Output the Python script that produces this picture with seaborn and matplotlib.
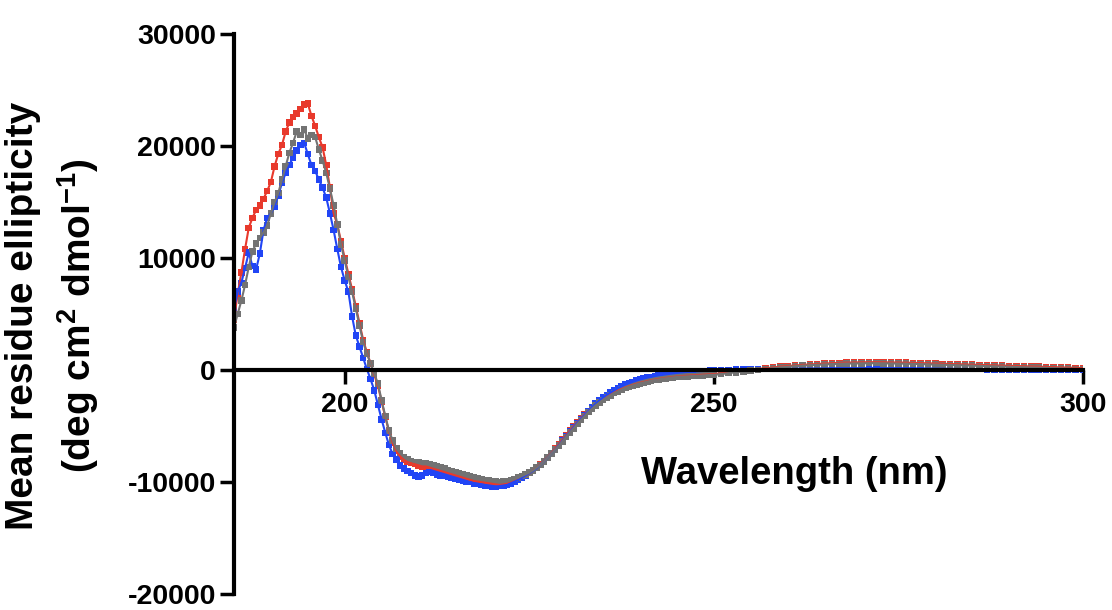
import numpy as np
import pandas as pd
import matplotlib
matplotlib.use("Agg")
import matplotlib.pyplot as plt
import seaborn as sns

# wavelengths: 0.5 nm steps up to 250 nm, then 1 nm steps
wavelength = np.concatenate([np.arange(185, 250.5, 0.5), np.arange(251, 301)])

red_mre = [
    # 185 - 189.5
    4500, 6800, 8700, 10800, 12700, 13600, 14300, 14700, 15300, 16000,
    # 190 - 194.5
    16800, 18200, 19300, 20100, 21300, 22100, 22600, 22900, 23300, 23700,
    # 195 - 199.5
    23800, 22700, 21800, 20800, 19900, 18300, 16300, 14000, 13000, 11500,
    # 200 - 204.5
    10000, 8600, 7200, 5700, 4200, 2700, 1600, 600, -400, -1400,
    # 205 - 209.5
    -2800, -4200, -5500, -6500, -7200, -7700, -8000, -8200, -8300, -8400,
    # 210 - 214.5
    -8500, -8600, -8600, -8700, -8800, -8900, -9000, -9100, -9200, -9300,
    # 215 - 219.5
    -9400, -9500, -9600, -9700, -9800, -9900, -9950, -10000, -10050, -10100,
    # 220 - 224.5
    -10150, -10200, -10250, -10200, -10150, -10050, -9900, -9750, -9550, -9400,
    # 225 - 229.5
    -9200, -8950, -8700, -8400, -8100, -7750, -7400, -7000, -6600, -6200,
    # 230 - 234.5
    -5800, -5400, -5000, -4650, -4300, -3950, -3650, -3350, -3050, -2800,
    # 235 - 239.5
    -2550, -2350, -2150, -1980, -1820, -1680, -1550, -1430, -1320, -1220,
    # 240 - 244.5
    -1130, -1050, -980, -910, -850, -790, -740, -690, -650, -610,
    # 245 - 250
    -570, -540, -510, -490, -470, -450, -430, -410, -390, -370, -350,
    # 251 - 300
    -280, -200, -120, -40, 30, 100, 170, 240, 310, 370,
    420, 470, 510, 550, 590, 620, 650, 670, 690, 700,
    710, 710, 700, 690, 680, 670, 650, 630, 610, 590,
    570, 550, 530, 510, 490, 470, 450, 430, 410, 390,
    370, 350, 330, 310, 290, 270, 250, 230, 210, 190,
]

blue_mre = [
    # 185 - 189.5
    5500, 7000, 7800, 9100, 10500, 9300, 9000, 10400, 12500, 13600,
    # 190 - 194.5
    14000, 14600, 15600, 16700, 17600, 18300, 19000, 19600, 20100, 20300,
    # 195 - 199.5
    19300, 18300, 17800, 17000, 16300, 15400, 14000, 12500, 10800, 9200,
    # 200 - 204.5
    8000, 7000, 4800, 3100, 2100, 1100, 100, -800, -1800, -3100,
    # 205 - 209.5
    -4400, -5600, -6700, -7500, -8000, -8500, -8800, -9000, -9200, -9400,
    # 210 - 214.5
    -9500, -9400, -9200, -9100, -9150, -9300, -9400, -9450, -9500, -9600,
    # 215 - 219.5
    -9700, -9800, -9900, -9950, -10000, -10100, -10150, -10200, -10300, -10350,
    # 220 - 224.5
    -10400, -10400, -10350, -10300, -10250, -10100, -9950, -9800, -9600, -9400,
    # 225 - 229.5
    -9200, -9000, -8750, -8450, -8150, -7800, -7450, -7100, -6700, -6300,
    # 230 - 234.5
    -5900, -5500, -5100, -4700, -4350, -4000, -3650, -3300, -3000, -2700,
    # 235 - 239.5
    -2450, -2200, -2000, -1800, -1600, -1450, -1300, -1170, -1050, -940,
    # 240 - 244.5
    -840, -750, -670, -600, -530, -470, -420, -370, -330, -290,
    # 245 - 250
    -250, -220, -190, -160, -140, -120, -100, -80, -60, -40, -20,
    # 251 - 300
    0, 20, 40, 60, 70, 80, 90, 100, 110, 120,
    130, 140, 150, 150, 160, 170, 170, 180, 180, 180,
    190, 190, 180, 180, 170, 170, 160, 150, 150, 140,
    130, 120, 110, 110, 100, 90, 80, 80, 70, 60,
    60, 50, 50, 40, 40, 30, 30, 20, 20, 20,
]

gray_mre = [
    # 185 - 189.5
    3800, 5000, 6200, 7600, 9200, 10600, 11300, 11800, 12300, 12900,
    # 190 - 194.5
    14000, 15000, 15800, 17000, 18200, 19400, 20300, 21300, 21000, 21500,
    # 195 - 199.5
    20700, 21000, 20800, 19700, 18700, 17600, 16200, 14700, 13000, 11200,
    # 200 - 204.5
    9800, 8300, 7000, 5500, 4000, 2500, 1500, 600, -300, -1200,
    # 205 - 209.5
    -2700, -4100, -5400, -6300, -7000, -7400, -7750, -7950, -8100, -8200,
    # 210 - 214.5
    -8200, -8300, -8300, -8400, -8500, -8600, -8700, -8800, -8900, -9000,
    # 215 - 219.5
    -9100, -9200, -9300, -9400, -9500, -9600, -9650, -9700, -9800, -9850,
    # 220 - 224.5
    -9900, -9950, -10000, -9950, -9900, -9800, -9700, -9600, -9450, -9300,
    # 225 - 229.5
    -9150, -8950, -8700, -8450, -8150, -7800, -7450, -7100, -6750, -6350,
    # 230 - 234.5
    -5950, -5550, -5200, -4800, -4450, -4100, -3750, -3450, -3150, -2900,
    # 235 - 239.5
    -2650, -2450, -2250, -2050, -1900, -1750, -1600, -1480, -1370, -1270,
    # 240 - 244.5
    -1180, -1100, -1020, -950, -890, -830, -780, -730, -690, -650,
    # 245 - 250
    -610, -590, -570, -550, -530, -510, -490, -470, -450, -430, -420,
    # 251 - 300
    -350, -270, -190, -110, -40, 30, 100, 170, 240, 300,
    350, 400, 440, 480, 510, 540, 570, 590, 600, 610,
    620, 620, 610, 600, 590, 580, 560, 540, 520, 500,
    480, 460, 440, 420, 400, 380, 360, 340, 320, 300,
    280, 260, 240, 220, 200, 180, 160, 140, 120, 100,
]

samples = ["red", "blue", "gray"]
colors = {"red": "#e8392c", "blue": "#2145f5", "gray": "#737373"}

df = pd.concat([
    pd.DataFrame({"wavelength": wavelength, "mre": vals, "sample": name})
    for name, vals in zip(samples, [red_mre, blue_mre, gray_mre])
], ignore_index=True)

sns.set_style("ticks")
plt.rcParams["font.family"] = ["Liberation Sans", "DejaVu Sans"]
plt.rcParams["font.weight"] = "bold"
plt.rcParams["text.color"] = "black"
plt.rcParams["axes.labelcolor"] = "black"
plt.rcParams["xtick.color"] = "black"
plt.rcParams["ytick.color"] = "black"
plt.rcParams["axes.unicode_minus"] = False
plt.rcParams["mathtext.fontset"] = "custom"
plt.rcParams["mathtext.rm"] = "Liberation Sans:bold"
plt.rcParams["mathtext.it"] = "Liberation Sans:bold"
plt.rcParams["mathtext.bf"] = "Liberation Sans:bold"

fig = plt.figure(figsize=(11.12, 6.10), dpi=100)
ax = fig.add_axes([0.2104, 0.026, 0.7635, 0.918])

# thin connecting lines fill the gaps between the dense points
for name, vals in zip(samples, [red_mre, blue_mre, gray_mre]):
    sns.lineplot(x=wavelength, y=vals, color=colors[name], linewidth=1.5,
                 ax=ax, legend=False)
sns.scatterplot(data=df, x="wavelength", y="mre", hue="sample", palette=colors,
                marker="s", s=22, linewidth=0, legend=False, ax=ax)

ax.set_xlim(185, 300)
ax.set_ylim(-20000, 30000)
ax.set_xticks([200, 250, 300])
ax.set_yticks([-20000, -10000, 0, 10000, 20000, 30000])

for side in ["top", "right"]:
    ax.spines[side].set_visible(False)
ax.spines["bottom"].set_position(("data", 0))
for side in ["left", "bottom"]:
    ax.spines[side].set_linewidth(3)
    ax.spines[side].set_color("black")

ax.tick_params(axis="both", direction="out", length=10, width=2.5,
               labelsize=20.5, color="black", labelcolor="black")
ax.tick_params(axis="x", pad=6)
ax.tick_params(axis="y", pad=3)
for lbl in ax.get_xticklabels() + ax.get_yticklabels():
    lbl.set_fontweight("bold")

ax.set_xlabel("Wavelength (nm)", fontsize=27.5, fontweight="bold")
ax.xaxis.set_label_coords(0.660, 0.246)
ax.set_ylabel("Mean residue ellipticity\n(deg cm$^2$ dmol$^{-1}$)",
              fontsize=28, fontweight="bold", linespacing=1.4)
ax.yaxis.set_label_coords(-0.157, 0.497)

fig.savefig("out.png", dpi=100)
